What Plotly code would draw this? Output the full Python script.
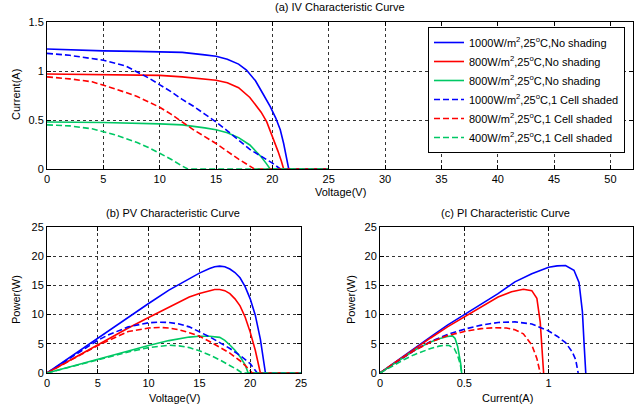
import plotly.graph_objects as go

# ---------------- data ----------------
LABELS = [
    "1000W/m<sup>2</sup>,25<sup>o</sup>C,No shading",
    "800W/m<sup>2</sup>,25<sup>o</sup>C,No shading",
    "800W/m<sup>2</sup>,25<sup>o</sup>C,No shading",
    "1000W/m<sup>2</sup>,25<sup>o</sup>C,1 Cell shaded",
    "800W/m<sup>2</sup>,25<sup>o</sup>C,1 Cell shaded",
    "400W/m<sup>2</sup>,25<sup>o</sup>C,1 Cell shaded",
]

# (a) IV curves: voltage (V) and current (A)
iv_v_blue = [0, 2, 5, 8, 10, 12, 14, 15, 16, 17, 17.7, 18.5, 19.2, 19.8, 20.3, 20.7, 21.0, 21.3, 21.45, 25]
iv_i_blue = [1.225, 1.215, 1.205, 1.2, 1.195, 1.19, 1.165, 1.15, 1.12, 1.07, 1.01, 0.9, 0.76, 0.64, 0.52, 0.4, 0.26, 0.09, 0, 0]
iv_v_red = [0, 5, 10, 12, 14, 15, 16, 17, 18, 18.5, 19, 19.5, 20, 20.5, 20.8, 21, 25]
iv_i_red = [0.97, 0.965, 0.955, 0.94, 0.92, 0.905, 0.88, 0.83, 0.73, 0.66, 0.58, 0.48, 0.34, 0.18, 0.08, 0, 0]
iv_v_green = [0, 5, 10, 12, 14, 15, 16, 17, 18, 18.5, 19, 19.5, 19.8, 25]
iv_i_green = [0.48, 0.475, 0.46, 0.45, 0.42, 0.4, 0.37, 0.32, 0.245, 0.19, 0.125, 0.05, 0, 0]
iv_v_blue_sh = [0, 2, 5, 7, 9, 10, 11, 12, 13, 14, 15, 16, 17, 18, 19, 20, 20.7, 25]
iv_i_blue_sh = [1.18, 1.16, 1.11, 1.05, 0.93, 0.86, 0.79, 0.71, 0.64, 0.56, 0.48, 0.39, 0.29, 0.2, 0.13, 0.06, 0, 0]
iv_v_red_sh = [0, 2, 4, 6, 8, 10, 11, 12, 13, 14, 15, 16, 17, 18, 18.4, 25]
iv_i_red_sh = [0.94, 0.92, 0.89, 0.82, 0.74, 0.63, 0.56, 0.48, 0.4, 0.33, 0.26, 0.18, 0.1, 0.03, 0, 0]
iv_v_green_sh = [0, 2, 4, 6, 8, 9, 10, 11, 12, 12.5, 25]
iv_i_green_sh = [0.45, 0.44, 0.41, 0.35, 0.27, 0.22, 0.16, 0.1, 0.03, 0, 0]

# (b) PV curves: voltage (V) and power (W)
pv_v_blue = [0, 2, 4, 6, 8, 10, 12, 14, 15, 16, 16.5, 17, 17.5, 18, 18.5, 19, 19.5, 20, 20.5, 21, 21.5, 25]
pv_p_blue = [0, 2.4, 4.8, 7.2, 9.6, 11.9, 14.2, 16.2, 17.1, 17.9, 18.2, 18.3, 18.2, 17.8, 17.2, 16.3, 14.8, 12.7, 9.9, 5.8, 0, 0]
pv_v_red = [0, 2, 4, 6, 8, 10, 12, 14, 15, 16, 16.5, 17, 17.5, 18, 18.5, 19, 19.5, 20, 20.5, 21, 25]
pv_p_red = [0, 1.95, 3.85, 5.8, 7.7, 9.5, 11.3, 13.0, 13.6, 14.1, 14.3, 14.3, 14.1, 13.6, 12.7, 11.5, 9.6, 7.0, 3.9, 0, 0]
pv_v_green = [0, 2, 4, 6, 8, 10, 12, 13, 14, 15, 16, 17, 17.5, 18, 18.5, 19, 19.5, 19.8, 25]
pv_p_green = [0, 0.95, 1.9, 2.85, 3.8, 4.7, 5.55, 5.9, 6.15, 6.3, 6.3, 6.1, 5.6, 4.8, 3.9, 2.8, 1.4, 0, 0]
pv_v_blue_sh = [0, 2, 4, 5, 6, 8, 10, 11, 12, 13, 14, 15, 16, 17, 18, 19, 20, 20.7, 25]
pv_p_blue_sh = [0, 2.3, 4.6, 5.6, 6.5, 7.9, 8.6, 8.7, 8.65, 8.4, 7.9, 7.1, 6.2, 5.2, 4.2, 3.0, 1.6, 0, 0]
pv_v_red_sh = [0, 2, 4, 5, 6, 8, 10, 11, 12, 13, 14, 15, 16, 17, 18, 19, 19.5, 20.2, 25]
pv_p_red_sh = [0, 1.9, 3.8, 4.7, 5.5, 7.1, 7.7, 7.8, 7.7, 7.4, 6.9, 6.3, 5.4, 4.45, 3.4, 2.1, 1.3, 0, 0]
pv_v_green_sh = [0, 2, 4, 6, 8, 10, 11, 12, 13, 14, 15, 16, 17, 18, 18.7, 19.2, 25]
pv_p_green_sh = [0, 0.93, 1.86, 2.75, 3.6, 4.35, 4.6, 4.75, 4.65, 4.35, 3.8, 3.1, 2.25, 1.3, 0.6, 0, 0]

# (c) PI curves: current (A) and power (W)
pi_i_blue = [0, 0.1, 0.2, 0.3, 0.4, 0.5, 0.6, 0.7, 0.8, 0.9, 1.0, 1.05, 1.1, 1.15, 1.18, 1.2, 1.21, 1.22]
pi_p_blue = [0, 2.1, 4.2, 6.2, 8.2, 10.0, 11.8, 13.6, 15.6, 17.0, 18.1, 18.35, 18.4, 17.6, 15.5, 10.5, 5, 0]
pi_i_red = [0, 0.1, 0.2, 0.3, 0.4, 0.5, 0.6, 0.7, 0.78, 0.85, 0.9, 0.93, 0.95, 0.96, 0.97]
pi_p_red = [0, 2.05, 4.05, 6.0, 7.9, 9.6, 11.2, 13.0, 13.9, 14.35, 14.1, 12.8, 8.7, 4.2, 0]
pi_i_green = [0, 0.05, 0.1, 0.15, 0.2, 0.25, 0.3, 0.35, 0.4, 0.43, 0.445, 0.46, 0.47, 0.478, 0.484]
pi_p_green = [0, 0.98, 1.95, 2.9, 3.8, 4.6, 5.3, 5.85, 6.25, 6.35, 5.9, 4.6, 3.2, 1.7, 0]
pi_i_blue_sh = [0, 0.1, 0.2, 0.3, 0.4, 0.5, 0.6, 0.7, 0.8, 0.9, 1.0, 1.05, 1.1, 1.14, 1.16, 1.175]
pi_p_blue_sh = [0, 1.95, 3.8, 5.4, 6.6, 7.5, 8.2, 8.65, 8.75, 8.4, 7.2, 6.3, 5.2, 3.6, 2.3, 0]
pi_i_red_sh = [0, 0.1, 0.2, 0.3, 0.4, 0.5, 0.6, 0.68, 0.75, 0.8, 0.85, 0.9, 0.93, 0.95]
pi_p_red_sh = [0, 2.0, 3.8, 5.3, 6.4, 7.1, 7.6, 7.75, 7.7, 7.4, 6.7, 4.8, 2.5, 0]
pi_i_green_sh = [0, 0.05, 0.1, 0.15, 0.2, 0.25, 0.3, 0.35, 0.38, 0.41, 0.44, 0.46, 0.475, 0.485]
pi_p_green_sh = [0, 0.85, 1.65, 2.4, 3.1, 3.7, 4.2, 4.6, 4.75, 4.7, 4.2, 3.0, 1.6, 0]

# ---------------- style ----------------
COLORS = ["#0000FF", "#FF0000", "#00C864", "#0000FF", "#FF0000", "#00C864"]
DASHES = ["solid", "solid", "solid", "6px,3px", "6px,3px", "6px,3px"]
FONT = "Liberation Sans, Arial, sans-serif"

IV = [(iv_v_blue, iv_i_blue), (iv_v_red, iv_i_red), (iv_v_green, iv_i_green),
      (iv_v_blue_sh, iv_i_blue_sh), (iv_v_red_sh, iv_i_red_sh), (iv_v_green_sh, iv_i_green_sh)]
PV = [(pv_v_blue, pv_p_blue), (pv_v_red, pv_p_red), (pv_v_green, pv_p_green),
      (pv_v_blue_sh, pv_p_blue_sh), (pv_v_red_sh, pv_p_red_sh), (pv_v_green_sh, pv_p_green_sh)]
PI = [(pi_i_blue, pi_p_blue), (pi_i_red, pi_p_red), (pi_i_green, pi_p_green),
      (pi_i_blue_sh, pi_p_blue_sh), (pi_i_red_sh, pi_p_red_sh), (pi_i_green_sh, pi_p_green_sh)]

fig = go.Figure()
for k in range(6):
    line = dict(color=COLORS[k], dash=DASHES[k], width=1.6)
    fig.add_trace(go.Scatter(x=IV[k][0], y=IV[k][1], mode="lines", line=line,
                             name=LABELS[k], xaxis="x", yaxis="y", showlegend=True))
for k in range(6):
    line = dict(color=COLORS[k], dash=DASHES[k], width=1.6)
    fig.add_trace(go.Scatter(x=PV[k][0], y=PV[k][1], mode="lines", line=line,
                             xaxis="x2", yaxis="y2", showlegend=False))
for k in range(6):
    line = dict(color=COLORS[k], dash=DASHES[k], width=1.6)
    fig.add_trace(go.Scatter(x=PI[k][0], y=PI[k][1], mode="lines", line=line,
                             xaxis="x3", yaxis="y3", showlegend=False))

W, H = 640, 411


def fx(px):
    return px / W


def fy(py):
    return 1 - py / H


def ax(domain, rng, dtick, anchor, **kw):
    d = dict(domain=domain, range=rng, dtick=dtick, tick0=0, anchor=anchor,
             automargin=False,
             showline=True, linecolor="black", linewidth=1, mirror="ticks",
             ticks="inside", ticklen=4, tickcolor="black",
             showgrid=True, gridcolor="#333333", gridwidth=1, griddash="3px,3px",
             zeroline=False, tickfont=dict(family=FONT, size=11, color="black"))
    d.update(kw)
    return d


fig.update_layout(
    template="none",
    width=W, height=H,
    margin=dict(l=0, r=0, t=0, b=0, autoexpand=False),
    paper_bgcolor="white", plot_bgcolor="white",
    font=dict(family=FONT, size=11, color="black"),
    xaxis=ax([fx(47), fx(633)], [0, 52], 5, "y"),
    yaxis=ax([fy(169), fy(22)], [0, 1.5], 0.5, "x"),
    xaxis2=ax([fx(47), fx(301)], [0, 25], 5, "y2"),
    yaxis2=ax([fy(373), fy(227)], [0, 25], 5, "x2"),
    xaxis3=ax([fx(380), fx(633)], [0, 1.5], 0.5, "y3"),
    yaxis3=ax([fy(373), fy(227)], [0, 25], 5, "x3"),
    legend=dict(x=fx(428), y=fy(27), xanchor="left", yanchor="top",
                bgcolor="white", bordercolor="black", borderwidth=1,
                font=dict(family=FONT, size=11, color="black"),
                tracegroupgap=0, itemwidth=30),
)

ann = [
    ("(a) IV Characteristic Curve", 340, 7, 0),
    ("Voltage(V)", 340, 192, 0),
    ("Current(A)", 16, 95, -90),
    ("(b) PV Characteristic Curve", 173, 213, 0),
    ("Voltage(V)", 174, 398, 0),
    ("Power(W)", 16, 300, -90),
    ("(c) PI Characteristic Curve", 505, 213, 0),
    ("Current(A)", 507, 398, 0),
    ("Power(W)", 351, 300, -90),
]
for text, px, py, rot in ann:
    fig.add_annotation(text=text, x=fx(px), y=fy(py), xref="paper", yref="paper",
                       showarrow=False, textangle=rot, xanchor="center", yanchor="middle",
                       font=dict(family=FONT, size=11, color="black"))

fig.write_html("out.html", config={"displayModeBar": False},
               post_script="document.body.style.margin='0';document.body.style.overflow='hidden';")
